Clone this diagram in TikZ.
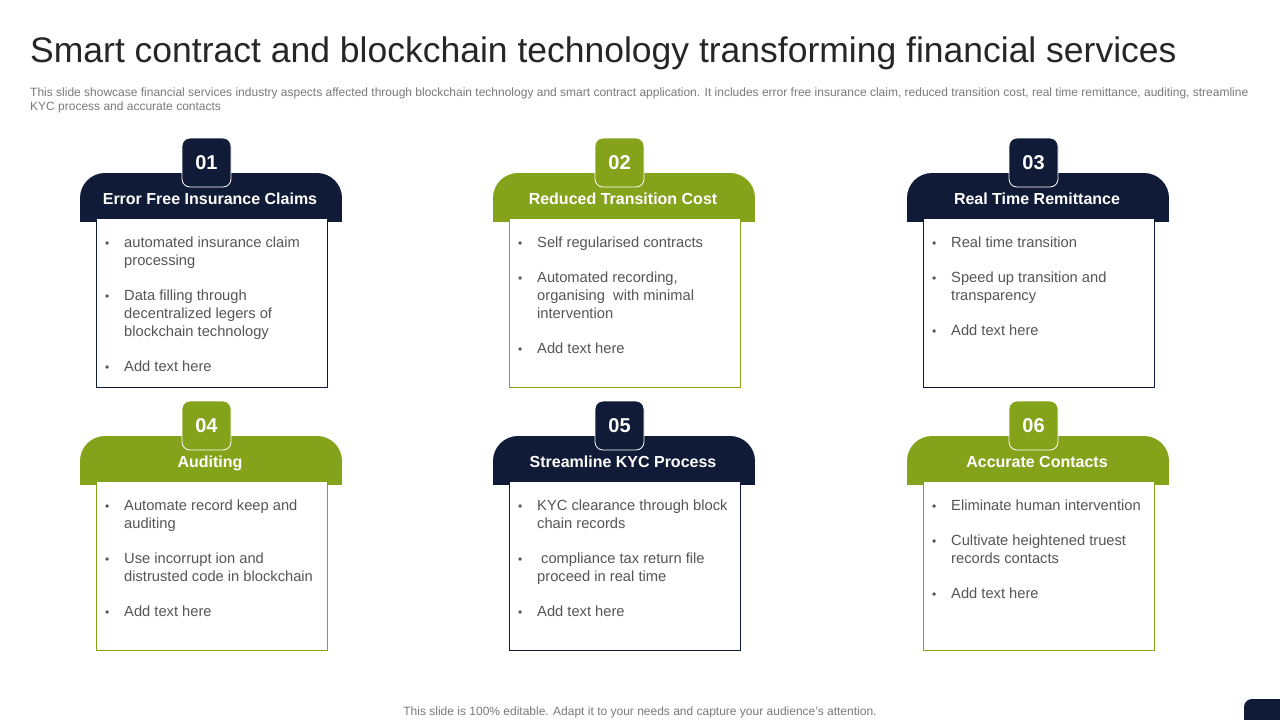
\documentclass[tikz,border=0pt]{standalone}
\usepackage{fontspec}
\setmainfont{Liberation Sans}
\definecolor{navy}{HTML}{101B37}
\definecolor{leaf}{HTML}{84A31B}
\definecolor{ink}{HTML}{555555}
\definecolor{note}{HTML}{7A7A7A}
\tikzset{
  badge/.style={draw=white, line width=0.8pt, rounded corners=8pt, minimum size=49pt,
    inner sep=0pt, text=white, font=\fontsize{20}{24}\selectfont\bfseries},
  head/.style={text=white, inner sep=0pt, anchor=base, font=\fontsize{16}{19}\selectfont\bfseries},
  items/.style={text=ink, inner sep=0pt, anchor=north west, font=\fontsize{14.7}{18}\selectfont}
}
% bullet cell and gap between two points
\newcommand\bul{\makebox[19pt][l]{\fontsize{12}{12}\selectfont\textbullet}&}
\newcommand\nxt{\\[17pt]}
% #1 name, #2 left, #3 top of header, #4 colour, #5 number, #6 title, #7 rows
\newcommand\fincard[7]{%
  \fill[#4, rounded corners=25pt] (#2,#3) rectangle ++(262,49);
  \fill[#4] (#2,#3+26) rectangle ++(262,23);
  \draw[#4, fill=white, line width=1pt] (#2+16,#3+45) rectangle (#2+247,#3+214);
  \node[badge, fill=#4] (#1num) at (#2+126.5,#3-10.5) {#5};
  \node[head] (#1head) at (#2+130,#3+31) {#6};
  \node[items] (#1text) at (#2+25,#3+61.4)
    {\begin{tabular}{@{}l@{}l@{}}#7\end{tabular}};
}
\begin{document}
\begin{tikzpicture}[x=1pt, y=-1pt]
\fill[white] (0,0) rectangle (1280,720);
\useasboundingbox (0,0) rectangle (1280,720);
\node[anchor=base west, inner sep=0pt, text=black!85, font=\fontsize{35.5}{40}\selectfont]
  (title) at (30,62) {Smart contract and blockchain technology transforming financial services};
\node[anchor=base west, inner sep=0pt, text=note, align=left, font=\fontsize{12}{14}\selectfont]
  (intro) at (30,110) {This slide showcase financial services industry aspects affected through blockchain technology and smart contract application. It includes error free insurance claim, reduced transition cost, real time remittance, auditing, streamline\\KYC process and accurate contacts};
% top row
\fincard{claims}{80}{173}{navy}{01}{Error Free Insurance Claims}
  {\bul automated insurance claim\\ & processing\nxt
   \bul Data filling through\\ & decentralized legers of\\ & blockchain technology\nxt
   \bul Add text here}
\fincard{cost}{493}{173}{leaf}{02}{Reduced Transition Cost}
  {\bul Self regularised contracts\nxt
   \bul Automated recording,\\ & organising\ \ with minimal\\ & intervention\nxt
   \bul Add text here}
\fincard{remit}{907}{173}{navy}{03}{Real Time Remittance}
  {\bul Real time transition\nxt
   \bul Speed up transition and\\ & transparency\nxt
   \bul Add text here}
% bottom row
\fincard{audit}{80}{436}{leaf}{04}{Auditing}
  {\bul Automate record keep and\\ & auditing\nxt
   \bul Use incorrupt ion and\\ & distrusted code in blockchain\nxt
   \bul Add text here}
\fincard{kyc}{493}{436}{navy}{05}{Streamline KYC Process}
  {\bul KYC clearance through block\\ & chain records\nxt
   \bul \hspace{4pt}compliance tax return file\\ & proceed in real time\nxt
   \bul Add text here}
\fincard{contacts}{907}{436}{leaf}{06}{Accurate Contacts}
  {\bul Eliminate human intervention\nxt
   \bul Cultivate heightened truest\\ & records contacts\nxt
   \bul Add text here}
\node[anchor=base, inner sep=0pt, text=note, font=\fontsize{12}{14}\selectfont]
  (footer) at (640,715) {This slide is 100\% editable. Adapt it to your needs and capture your audience's attention.};
\fill[navy, rounded corners=8pt] (1244,699) rectangle (1300,740);
\end{tikzpicture}
\end{document}
